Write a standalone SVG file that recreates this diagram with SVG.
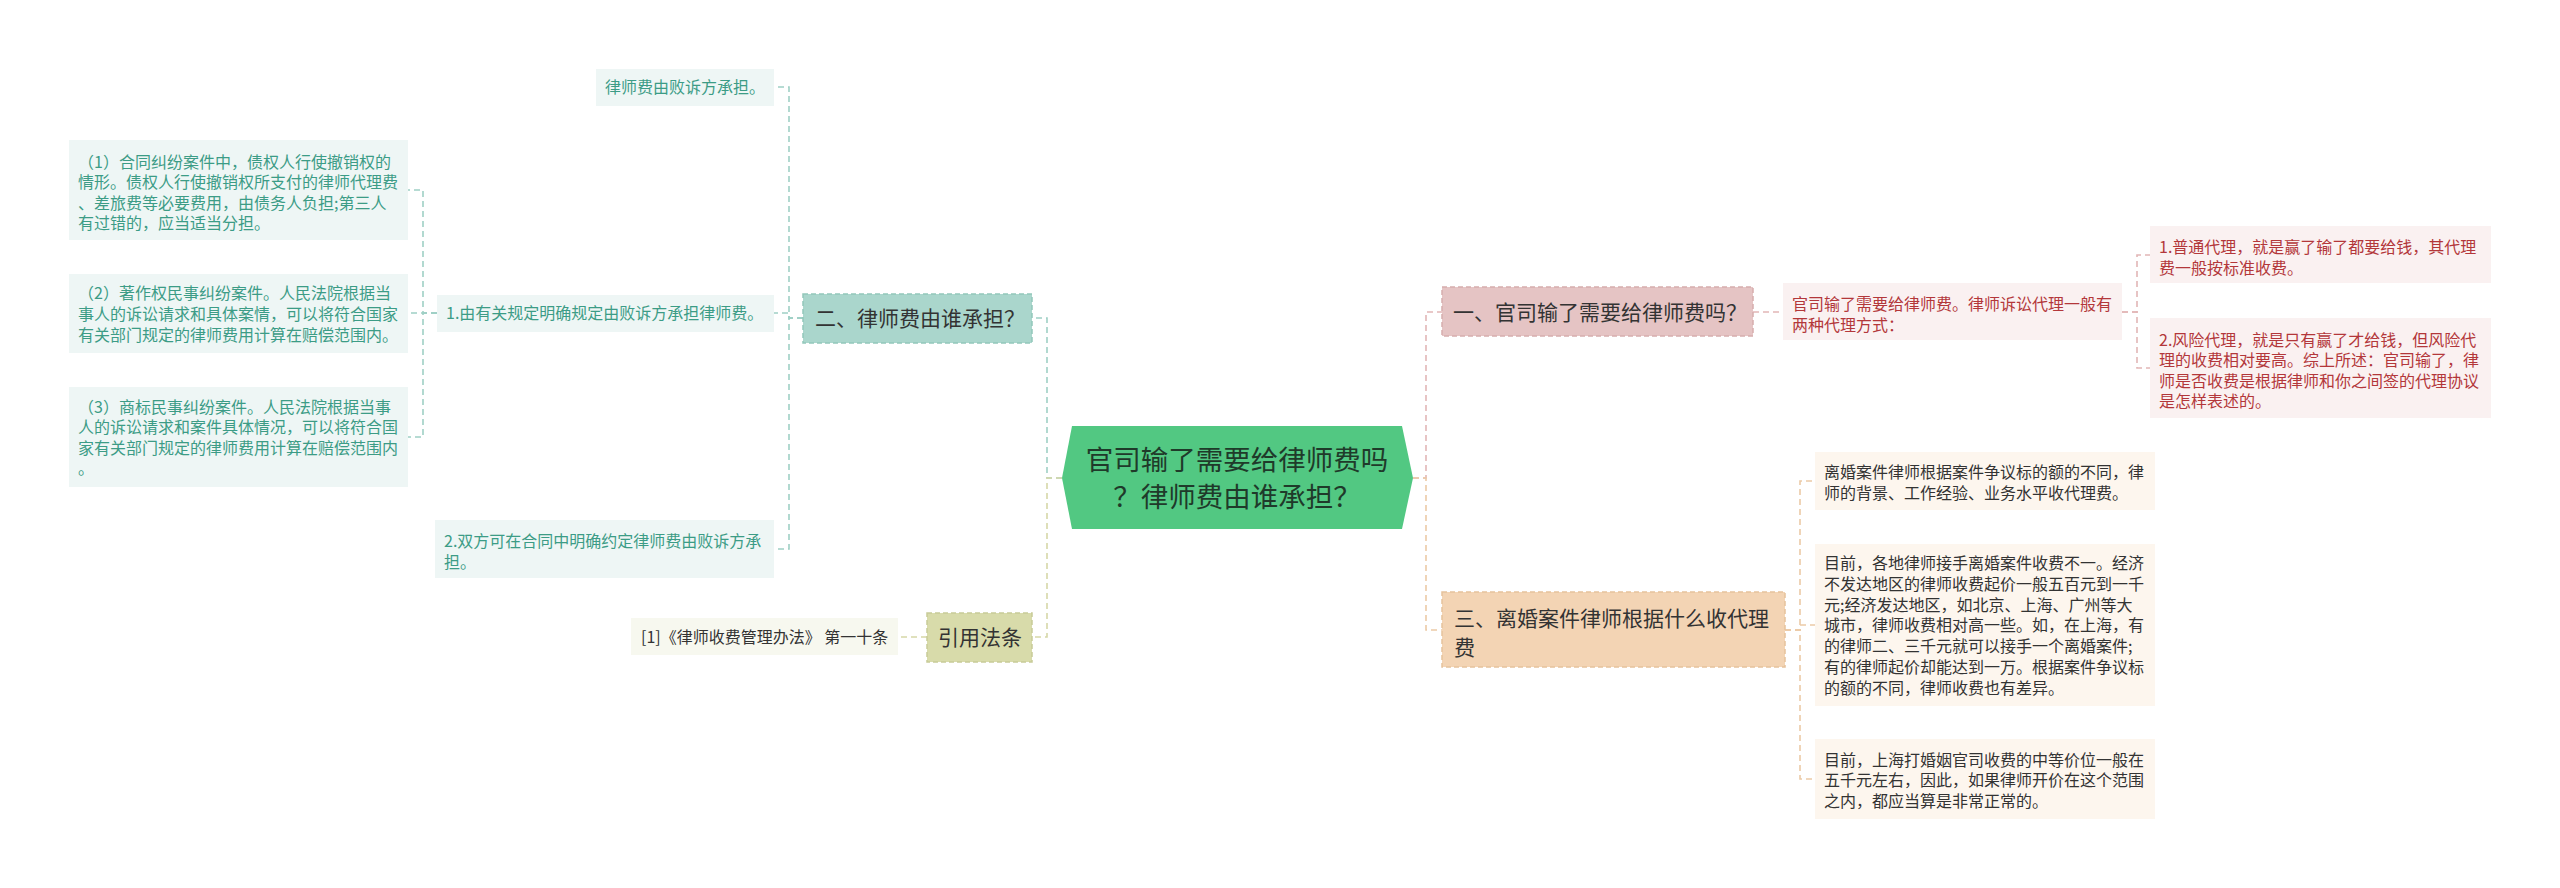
<svg xmlns="http://www.w3.org/2000/svg" width="2560" height="888" viewBox="0 0 2560 888">
<style>
text{font-family:"Noto Sans CJK SC","Noto Sans",sans-serif;}
.c{fill:none;stroke-width:1.6;stroke-dasharray:6 4;}
.ct{stroke:#9fd0c5;}
.co{stroke:#d6d8a8;}
.cp{stroke:#e2b6b6;}
.cf{stroke:#eccaa6;}
.br{font-size:21px;fill:#333333;}
.lf{font-size:16px;}
.lt{fill:#3c9c86;}
.lr{fill:#b3373a;}
.ld{fill:#333333;}
.bt{fill:#aad6cc;stroke:#93c7bb;stroke-width:1.5;stroke-dasharray:5 3;}
.bo{fill:#d8dbaa;stroke:#c8cb98;stroke-width:1.5;stroke-dasharray:5 3;}
.bp{fill:#e5c4c4;stroke:#d6adad;stroke-width:1.5;stroke-dasharray:5 3;}
.bf{fill:#f3d4b4;stroke:#e6c29c;stroke-width:1.5;stroke-dasharray:5 3;}
.ft{fill:#eef6f5;}
.fo{fill:#f7f8ef;}
.fp{fill:#faf1f1;}
.ff{fill:#fdf6ee;}
</style>
<rect width="2560" height="888" fill="#ffffff"/>
<g id="connectors">
<path class="c ct" d="M1062 478 H1047 V318 H1032"/>
<path class="c co" d="M1062 478 H1047 V637 H1032"/>
<path class="c cp" d="M1413 478 H1426 V312 H1442"/>
<path class="c cf" d="M1413 478 H1426 V630 H1442"/>
<path class="c ct" d="M803 318 H789 V87 H774"/>
<path class="c ct" d="M803 318 H789 V313 H774"/>
<path class="c ct" d="M803 318 H789 V549 H774"/>
<path class="c ct" d="M437 313 H423 V190 H408"/>
<path class="c ct" d="M437 313 H423 V313 H408"/>
<path class="c ct" d="M437 313 H423 V437 H408"/>
<path class="c co" d="M927 637 H898"/>
<path class="c cp" d="M1753 312 H1783"/>
<path class="c cp" d="M2122 312 H2137 V255 H2150"/>
<path class="c cp" d="M2122 312 H2137 V368 H2150"/>
<path class="c cf" d="M1785 630 H1800 V481 H1815"/>
<path class="c cf" d="M1785 630 H1800 V625 H1815"/>
<path class="c cf" d="M1785 630 H1800 V779 H1815"/>
</g>
<g id="center">
<polygon points="1062,478 1072,426 1402,426 1413,478 1402,529 1072,529" fill="#52c882"/>
<text x="1237" y="470" font-size="27.5" fill="#1f3a2a" text-anchor="middle">官司输了需要给律师费吗</text>
<text x="1237" y="507" font-size="27.5" fill="#1f3a2a" text-anchor="middle">？律师费由谁承担？</text>
</g>
<g id="b2">
<rect class="bt" x="803" y="294" width="229" height="49"/>
<text class="br" x="815" y="325.5">二、律师费由谁承担？</text>
</g>
<g id="bref">
<rect class="bo" x="927" y="613" width="105" height="49"/>
<text class="br" x="938" y="645">引用法条</text>
</g>
<g id="b1">
<rect class="bp" x="1442" y="287" width="311" height="49"/>
<text class="br" x="1453" y="319.5">一、官司输了需要给律师费吗？</text>
</g>
<g id="b3">
<rect class="bf" x="1442" y="592" width="343" height="75"/>
<text class="br" x="1454" y="625.5">三、离婚案件律师根据什么收代理</text>
<text class="br" x="1454" y="654.5">费</text>
</g>
<g id="l2a">
<rect class="ft" x="596" y="69" width="178" height="37"/>
<text class="lf lt" x="605" y="93">律师费由败诉方承担。</text>
</g>
<g id="l2b">
<rect class="ft" x="437" y="295" width="337" height="37"/>
<text class="lf lt" x="446" y="319">1.由有关规定明确规定由败诉方承担律师费。</text>
</g>
<g id="l2c">
<rect class="ft" x="435" y="520" width="339" height="58"/>
<text class="lf lt" x="444" y="547">2.双方可在合同中明确约定律师费由败诉方承</text>
<text class="lf lt" x="444" y="567.5">担。</text>
</g>
<g id="l2b1">
<rect class="ft" x="69" y="140" width="339" height="100"/>
<text class="lf lt" x="78" y="168">（1）合同纠纷案件中，债权人行使撤销权的</text>
<text class="lf lt" x="78" y="188.4">情形。债权人行使撤销权所支付的律师代理费</text>
<text class="lf lt" x="78" y="208.8">、差旅费等必要费用，由债务人负担;第三人</text>
<text class="lf lt" x="78" y="229.2">有过错的，应当适当分担。</text>
</g>
<g id="l2b2">
<rect class="ft" x="69" y="274" width="339" height="79"/>
<text class="lf lt" x="78" y="299">（2）著作权民事纠纷案件。人民法院根据当</text>
<text class="lf lt" x="78" y="320">事人的诉讼请求和具体案情，可以将符合国家</text>
<text class="lf lt" x="78" y="341">有关部门规定的律师费用计算在赔偿范围内。</text>
</g>
<g id="l2b3">
<rect class="ft" x="69" y="387" width="339" height="100"/>
<text class="lf lt" x="78" y="413">（3）商标民事纠纷案件。人民法院根据当事</text>
<text class="lf lt" x="78" y="433.4">人的诉讼请求和案件具体情况，可以将符合国</text>
<text class="lf lt" x="78" y="453.8">家有关部门规定的律师费用计算在赔偿范围内</text>
<text class="lf lt" x="78" y="474.2">。</text>
</g>
<g id="lref">
<rect class="fo" x="631" y="618" width="267" height="37"/>
<text class="lf ld" x="641" y="643">[1]《律师收费管理办法》 第一十条</text>
</g>
<g id="l1">
<rect class="fp" x="1783" y="283" width="339" height="57"/>
<text class="lf lr" x="1792" y="310">官司输了需要给律师费。律师诉讼代理一般有</text>
<text class="lf lr" x="1792" y="330.5">两种代理方式：</text>
</g>
<g id="l1a">
<rect class="fp" x="2150" y="226" width="341" height="57"/>
<text class="lf lr" x="2159" y="253">1.普通代理，就是赢了输了都要给钱，其代理</text>
<text class="lf lr" x="2159" y="273.5">费一般按标准收费。</text>
</g>
<g id="l1b">
<rect class="fp" x="2150" y="318" width="341" height="100"/>
<text class="lf lr" x="2159" y="346">2.风险代理，就是只有赢了才给钱，但风险代</text>
<text class="lf lr" x="2159" y="366.4">理的收费相对要高。综上所述：官司输了，律</text>
<text class="lf lr" x="2159" y="386.8">师是否收费是根据律师和你之间签的代理协议</text>
<text class="lf lr" x="2159" y="407.2">是怎样表述的。</text>
</g>
<g id="l3a">
<rect class="ff" x="1815" y="452" width="340" height="58"/>
<text class="lf ld" x="1824" y="478">离婚案件律师根据案件争议标的额的不同，律</text>
<text class="lf ld" x="1824" y="498.5">师的背景、工作经验、业务水平收代理费。</text>
</g>
<g id="l3b">
<rect class="ff" x="1815" y="544" width="340" height="162"/>
<text class="lf ld" x="1824" y="569">目前，各地律师接手离婚案件收费不一。经济</text>
<text class="lf ld" x="1824" y="589.8">不发达地区的律师收费起价一般五百元到一千</text>
<text class="lf ld" x="1824" y="610.6">元;经济发达地区，如北京、上海、广州等大</text>
<text class="lf ld" x="1824" y="631.4">城市，律师收费相对高一些。如，在上海，有</text>
<text class="lf ld" x="1824" y="652.2">的律师二、三千元就可以接手一个离婚案件;</text>
<text class="lf ld" x="1824" y="673">有的律师起价却能达到一万。根据案件争议标</text>
<text class="lf ld" x="1824" y="693.8">的额的不同，律师收费也有差异。</text>
</g>
<g id="l3c">
<rect class="ff" x="1815" y="739" width="340" height="80"/>
<text class="lf ld" x="1824" y="766">目前，上海打婚姻官司收费的中等价位一般在</text>
<text class="lf ld" x="1824" y="786.4">五千元左右，因此，如果律师开价在这个范围</text>
<text class="lf ld" x="1824" y="806.8">之内，都应当算是非常正常的。</text>
</g>
</svg>
